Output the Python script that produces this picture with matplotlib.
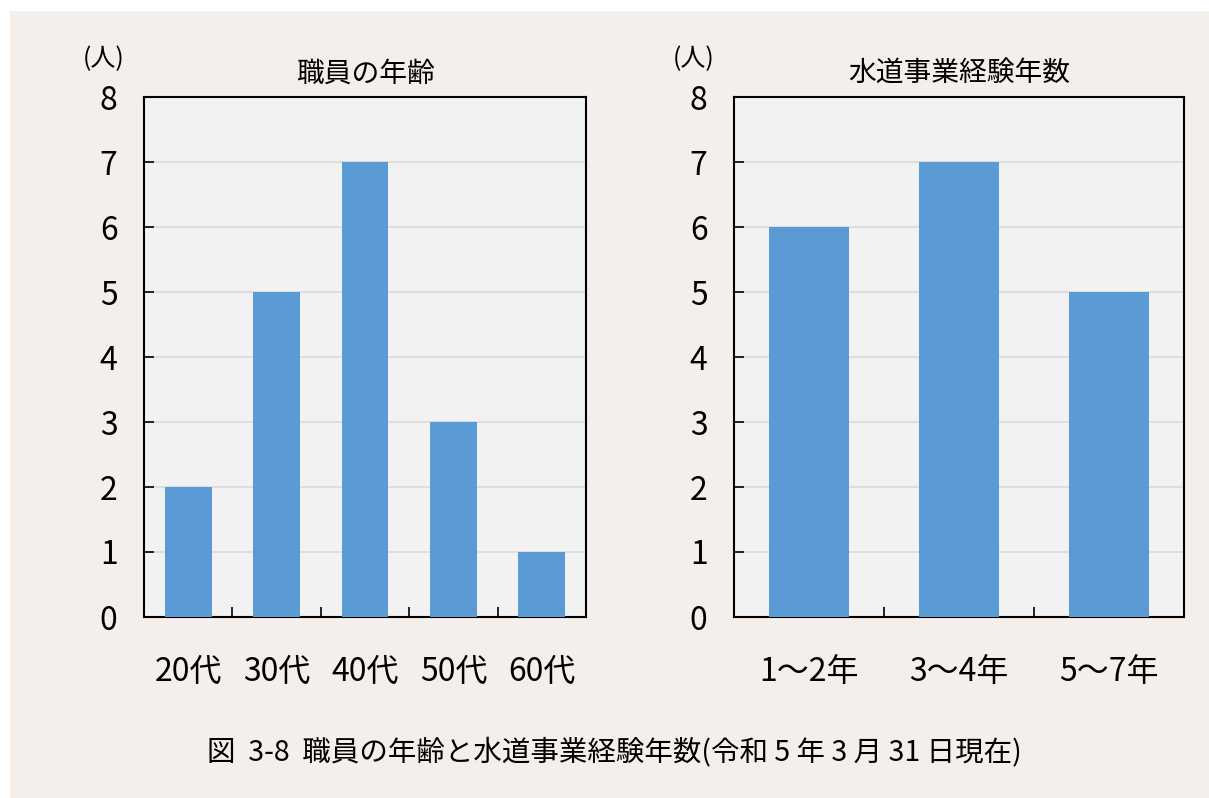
import matplotlib
matplotlib.use('Agg')
import matplotlib.pyplot as plt
import numpy as np

plt.rcParams['font.family'] = ['Noto Sans CJK JP', 'DejaVu Sans']

## data
age_labels = ['20代', '30代', '40代', '50代', '60代']
age_counts = [2, 5, 7, 3, 1]
exp_labels = ['1～2年', '3～4年', '5～7年']
exp_counts = [6, 7, 5]

bar_color = '#5B9BD5'
plot_bg = '#F2F2F2'
panel_bg = '#F4EFEB'
grid_color = '#D9D9D9'

W, H = 1209, 798
fig = plt.figure(figsize=(W / 100., H / 100.), dpi=100)
fig.patch.set_facecolor('white')

# beige panel behind everything
panel = plt.Rectangle((10. / W, 0), 1 - 10. / W, 1 - 11. / H,
                      transform=fig.transFigure, facecolor=panel_bg,
                      edgecolor='none', zorder=-10)
fig.patches.append(panel)


def px_axes(x0, y0, x1, y1):
    return fig.add_axes([x0 / W, 1 - y1 / H, (x1 - x0) / W, (y1 - y0) / H])


def draw_bars(ax, labels, counts, title, width, unit_x):
    n = len(labels)
    x = np.arange(n)
    ax.set_facecolor(plot_bg)
    ax.bar(x, counts, width=width, color=bar_color, zorder=3)
    ax.set_xlim(-0.5, n - 0.5)
    ax.set_ylim(0, 8)
    ax.set_yticks(range(0, 9))
    ax.yaxis.grid(True, color=grid_color, linewidth=1.2, zorder=1)
    ax.set_axisbelow(True)
    # tick marks sit between categories, labels at bar centres
    ax.set_xticks(np.arange(0.5, n - 0.5, 1))
    ax.set_xticklabels([])
    ax.set_xticks(x, minor=True)
    ax.set_xticklabels(labels, minor=True, fontsize=23)
    ax.tick_params(axis='x', which='major', direction='in', length=7, width=1.2)
    ax.tick_params(axis='x', which='minor', length=0, pad=28)
    ax.tick_params(axis='y', direction='in', length=7, width=1.2,
                   labelsize=23, pad=19)
    for s in ax.spines.values():
        s.set_linewidth(1.5)
        s.set_color('black')
    ax.set_title(title, fontsize=20, pad=11)
    fig.text(unit_x / W, 1 - 59. / H, '(人)', fontsize=18,
             ha='center', va='center')


ax1 = px_axes(144, 97, 586, 617)
draw_bars(ax1, age_labels, age_counts, '職員の年齢', 0.53, 104)

ax2 = px_axes(734, 97, 1184, 617)
draw_bars(ax2, exp_labels, exp_counts, '水道事業経験年数', 0.53, 694)

fig.text(614. / W, 1 - 752. / H,
         '図  3-8  職員の年齢と水道事業経験年数(令和 5 年 3 月 31 日現在)',
         fontsize=20.5, ha='center', va='center')

plt.savefig('out.png', dpi=100, facecolor=fig.get_facecolor())
